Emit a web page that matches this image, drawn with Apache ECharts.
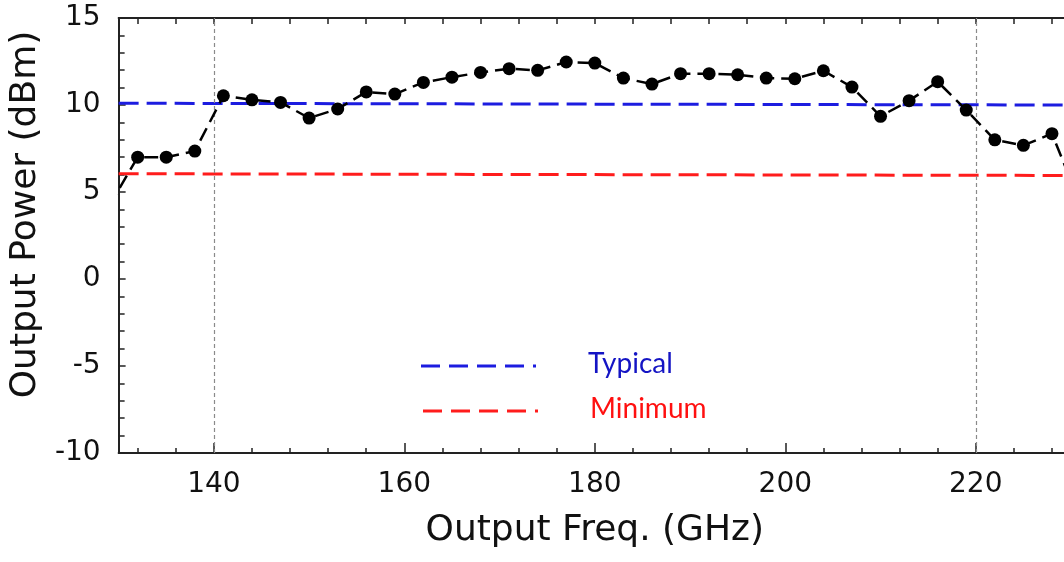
<!DOCTYPE html>
<html>
<head>
<meta charset="utf-8">
<script src="https://cdn.jsdelivr.net/npm/echarts@6/dist/echarts.min.js"></script>
<style>
html,body{margin:0;padding:0;background:#fff;overflow:hidden;}
#chart{width:1072px;height:562px;}
</style>
</head>
<body>
<div id="chart"></div>
<script>
// ---- data ----
const freqGHz = [129,132,135,138,141,144,147,150,153,156,159,162,165,168,171,174,177,180,183,186,189,192,195,198,201,204,207,210,213,216,219,222,225,228,231];
const powerDbm = [4.2,7.0,7.0,7.35,10.53,10.3,10.15,9.25,9.77,10.75,10.63,11.3,11.6,11.87,12.09,11.99,12.47,12.41,11.55,11.2,11.8,11.8,11.74,11.55,11.51,11.97,11.03,9.35,10.25,11.34,9.71,8.0,7.68,8.35,4.3];
const typicalX = [130,230];
const typicalY = [10.1,10.0];
const minimumX = [130,230];
const minimumY = [6.05,5.95];
const bandEdges = [140,220];
const xTickLabels = [140,160,180,200,220];
const xMinorTicks = [132,136,140,144,148,152,156,160,164,168,172,176,180,184,188,192,196,200,204,208,212,216,220,224,228];
const yTickLabels = [-10,-5,0,5,10,15];
const legendNames = ['Typical','Minimum'];

const zip = (xs, ys) => xs.map((x, i) => [x, ys[i]]);

const axisColor = '#222';
const textColor = '#111';
const tickFont = 'DejaVu Sans';

const chart = echarts.init(document.getElementById('chart'));
chart.setOption({
  backgroundColor: '#fff',
  animation: false,
  grid: {left: 118, top: 18, right: 1, bottom: 109, containLabel: false},
  xAxis: [
    {
      type: 'value', position: 'bottom', min: 130, max: 230,
      name: 'Output Freq. (GHz)', nameLocation: 'middle', nameGap: 60,
      nameTextStyle: {fontFamily: tickFont, fontSize: 36, color: textColor},
      axisLine: {show: true, onZero: false, lineStyle: {color: axisColor, width: 2}},
      axisTick: {show: true, inside: true, length: 10, customValues: xTickLabels, lineStyle: {color: axisColor, width: 1.5}},
      axisLabel: {show: true, customValues: xTickLabels, fontFamily: tickFont, fontSize: 28, color: textColor, margin: 18},
      splitLine: {show: false}
    },
    {
      type: 'value', position: 'bottom', min: 130, max: 230,
      axisLine: {show: false, onZero: false},
      axisTick: {show: true, inside: true, length: 5, customValues: xMinorTicks, lineStyle: {color: axisColor, width: 1.5}},
      axisLabel: {show: false},
      splitLine: {show: false}
    },
    {
      type: 'value', position: 'top', min: 130, max: 230,
      axisLine: {show: true, onZero: false, lineStyle: {color: axisColor, width: 2}},
      axisTick: {show: true, inside: true, length: 6, customValues: xMinorTicks, lineStyle: {color: axisColor, width: 1.5}},
      axisLabel: {show: false},
      splitLine: {show: false}
    }
  ],
  yAxis: [
    {
      type: 'value', position: 'left', min: -10, max: 15, interval: 5,
      name: 'Output Power (dBm)', nameLocation: 'middle', nameGap: 68,
      nameTextStyle: {fontFamily: tickFont, fontSize: 36, color: textColor, padding: [0,0,0,42]},
      axisLine: {show: true, onZero: false, lineStyle: {color: axisColor, width: 2}},
      axisTick: {show: true, inside: true, length: 7, lineStyle: {color: axisColor, width: 1.5}},
      minorTick: {show: true, splitNumber: 5, length: 6, lineStyle: {color: axisColor, width: 1.5}},
      axisLabel: {show: true, fontFamily: tickFont, fontSize: 28, color: textColor, margin: 18,
        customValues: yTickLabels},
      splitLine: {show: false}, minorSplitLine: {show: false}
    },
    {
      type: 'value', position: 'right', min: -10, max: 15, interval: 5,
      axisLine: {show: true, onZero: false, lineStyle: {color: axisColor, width: 2}},
      axisTick: {show: true, inside: true, length: 7, lineStyle: {color: axisColor, width: 1.5}},
      minorTick: {show: true, splitNumber: 5, length: 6, lineStyle: {color: axisColor, width: 1.5}},
      axisLabel: {show: false},
      splitLine: {show: false}
    }
  ],
  series: [
    {
      name: legendNames[0], type: 'line', xAxisIndex: 0, yAxisIndex: 0,
      data: zip(typicalX, typicalY), symbol: 'none', silent: true,
      lineStyle: {color: '#1c1ce0', width: 3, type: [20, 8]},
      markLine: {
        silent: true, symbol: 'none', label: {show: false},
        lineStyle: {color: '#8a8a8a', width: 1.2, type: [4, 3]},
        data: bandEdges.map(v => ({xAxis: v}))
      }
    },
    {
      name: legendNames[1], type: 'line', xAxisIndex: 0, yAxisIndex: 0,
      data: zip(minimumX, minimumY), symbol: 'none', silent: true,
      lineStyle: {color: '#ff1c1c', width: 3, type: [20, 8]}
    },
    {
      name: 'Measured', type: 'line', xAxisIndex: 0, yAxisIndex: 0,
      data: zip(freqGHz, powerDbm), clip: true,
      symbol: 'circle', symbolSize: 13,
      itemStyle: {color: '#000'},
      lineStyle: {color: '#000', width: 2.5, type: [14, 7]},
      z: 5
    }
  ],
  graphic: [
    {type: 'line', shape: {x1: 421, y1: 366, x2: 536, y2: 366}, style: {stroke: '#1c1ce0', lineWidth: 3, lineDash: [19, 9]}},
    {type: 'text', left: 588, top: 350, style: {text: legendNames[0], fill: '#1414c4', font: '28px Lato'}},
    {type: 'line', shape: {x1: 423, y1: 411, x2: 538, y2: 411}, style: {stroke: '#ff1c1c', lineWidth: 3, lineDash: [19, 9]}},
    {type: 'text', left: 590, top: 395, style: {text: legendNames[1], fill: '#ff1010', font: '28px Lato'}}
  ]
});
</script>
</body>
</html>
